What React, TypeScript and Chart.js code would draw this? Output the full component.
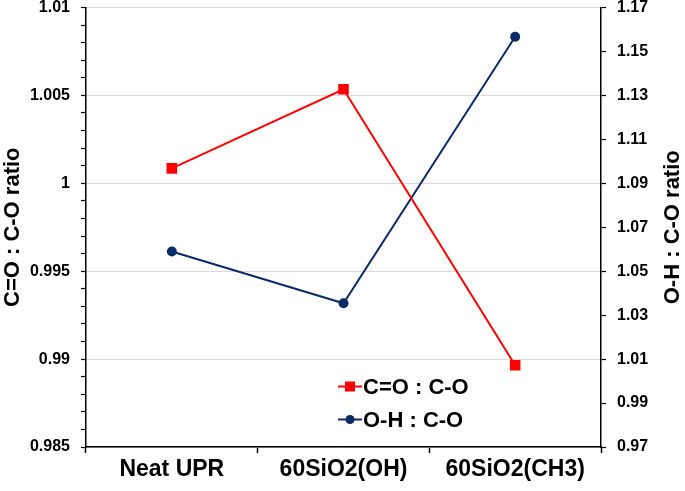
import React, { useEffect, useRef } from 'react';
import { Chart, registerables } from 'chart.js';

Chart.register(...registerables);

const categories = ['Neat UPR', '60SiO2(OH)', '60SiO2(CH3)'];
const coLabel = 'C=O : C-O';
const ohLabel = 'O-H : C-O';
const coValues = [1.00085, 1.00535, 0.98965];
const ohValues = [1.059, 1.0354, 1.1567];
const leftTitle = 'C=O : C-O ratio';
const rightTitle = 'O-H : C-O ratio';
const leftMin = 0.985;
const leftMax = 1.01;
const rightMin = 0.97;
const rightMax = 1.17;

const FONT = "'Liberation Sans', Arial, sans-serif";
const RED = '#ff0000';
const NAVY = '#0b2a66';

const isMajor = (v: number) => Math.abs(v * 200 - Math.round(v * 200)) < 1e-6;

const legendPlugin = {
  id: 'insideLegend',
  afterDraw(chart: any) {
    const { ctx, chartArea } = chart;
    // right axis title, reading bottom-to-top like the left one
    const s2 = chart.scales.y2;
    ctx.save();
    ctx.fillStyle = '#000';
    ctx.font = `bold 22px ${FONT}`;
    ctx.textAlign = 'center';
    ctx.textBaseline = 'middle';
    ctx.translate(s2.right - 12, (s2.top + s2.bottom) / 2);
    ctx.rotate(-Math.PI / 2);
    ctx.fillText(rightTitle, 0, 0);
    ctx.restore();

    const x0 = chartArea.left + 252;
    const y0 = chartArea.top + 379;
    chart.data.datasets.forEach((ds: any, i: number) => {
      const y = y0 + i * 33;
      ctx.save();
      ctx.strokeStyle = ds.borderColor;
      ctx.lineWidth = 2;
      ctx.beginPath();
      ctx.moveTo(x0, y);
      ctx.lineTo(x0 + 24, y);
      ctx.stroke();
      ctx.fillStyle = ds.backgroundColor;
      if (ds.pointStyle === 'rect') {
        ctx.fillRect(x0 + 12 - 5, y - 5, 10, 10);
      } else {
        ctx.beginPath();
        ctx.arc(x0 + 12, y, 4.5, 0, Math.PI * 2);
        ctx.fill();
      }
      ctx.fillStyle = '#000';
      ctx.font = `bold 22px ${FONT}`;
      ctx.textBaseline = 'middle';
      ctx.textAlign = 'left';
      ctx.fillText(ds.label, x0 + 25, y + 1);
      ctx.restore();
    });
  },
};

export default function App() {
  const ref = useRef<HTMLCanvasElement | null>(null);
  useEffect(() => {
    if (!ref.current) return;
    const chart = new Chart(ref.current, {
      type: 'line',
      data: {
        labels: categories,
        datasets: [
          {
            label: coLabel,
            data: coValues,
            yAxisID: 'y',
            borderColor: RED,
            backgroundColor: RED,
            borderWidth: 2,
            pointStyle: 'rect',
            pointRadius: 7.5,
            pointHoverRadius: 7.5,
            pointBorderWidth: 0,
            tension: 0,
          },
          {
            label: ohLabel,
            data: ohValues,
            yAxisID: 'y2',
            borderColor: NAVY,
            backgroundColor: NAVY,
            borderWidth: 2,
            pointStyle: 'circle',
            pointRadius: 5,
            pointHoverRadius: 5,
            pointBorderWidth: 0,
            tension: 0,
          },
        ],
      },
      options: {
        responsive: false,
        animation: false,
        layout: { padding: { top: 6, left: 0, right: 0, bottom: 0 } },
        plugins: {
          legend: { display: false },
          tooltip: { enabled: false },
        },
        scales: {
          x: {
            type: 'category',
            offset: true,
            grid: {
              offset: true,
              drawOnChartArea: false,
              tickLength: 6,
              tickColor: '#000',
              tickWidth: 1.5,
            },
            border: { color: '#000', width: 1.5 },
            ticks: {
              color: '#000',
              padding: 3,
              font: { family: FONT, size: 23, weight: 'bold' },
              maxRotation: 0,
            },
            afterFit: (s: any) => {
              s.height = 44;
              s.paddingLeft = 0;
              s.paddingRight = 0;
            },
          },
          y: {
            type: 'linear',
            position: 'left',
            min: leftMin,
            max: leftMax,
            grid: {
              color: (c: any) => (c.tick && isMajor(c.tick.value) ? '#d9d9d9' : 'rgba(0,0,0,0)'),
              tickColor: '#000',
              tickLength: 5,
              lineWidth: 1,
              tickWidth: 1.2,
            },
            border: { color: '#000', width: 1.5 },
            ticks: {
              stepSize: 0.001,
              maxTicksLimit: 40,
              autoSkip: false,
              color: '#000',
              padding: 11,
              font: { family: FONT, size: 16, weight: 'bold' },
              callback: (v: any) => (isMajor(Number(v)) ? String(Number(Number(v).toFixed(3))) : ''),
            },
            title: {
              display: true,
              text: leftTitle,
              color: '#000',
              padding: 0,
              font: { family: FONT, size: 22, weight: 'bold' },
            },
            afterFit: (s: any) => {
              s.width = 86;
              s.paddingTop = 0;
              s.paddingBottom = 0;
            },
          },
          y2: {
            type: 'linear',
            position: 'right',
            min: rightMin,
            max: rightMax,
            grid: {
              drawOnChartArea: false,
              tickColor: '#000',
              tickLength: 5,
              tickWidth: 1.2,
            },
            border: { color: '#000', width: 1.5 },
            ticks: {
              stepSize: 0.02,
              autoSkip: false,
              color: '#000',
              padding: 11,
              font: { family: FONT, size: 16, weight: 'bold' },
              callback: (v: any) => Number(v).toFixed(2),
            },
            title: { display: false, text: rightTitle },
            afterFit: (s: any) => {
              s.width = 84;
              s.paddingTop = 0;
              s.paddingBottom = 0;
            },
          },
        },
      },
      plugins: [legendPlugin],
    });
    return () => chart.destroy();
  }, []);

  return (
    <div style={{ position: 'fixed', left: 0, top: 0, width: 685, height: 491, background: '#fff' }}>
      <canvas ref={ref} width={685} height={491} style={{ display: 'block' }} />
    </div>
  );
}
